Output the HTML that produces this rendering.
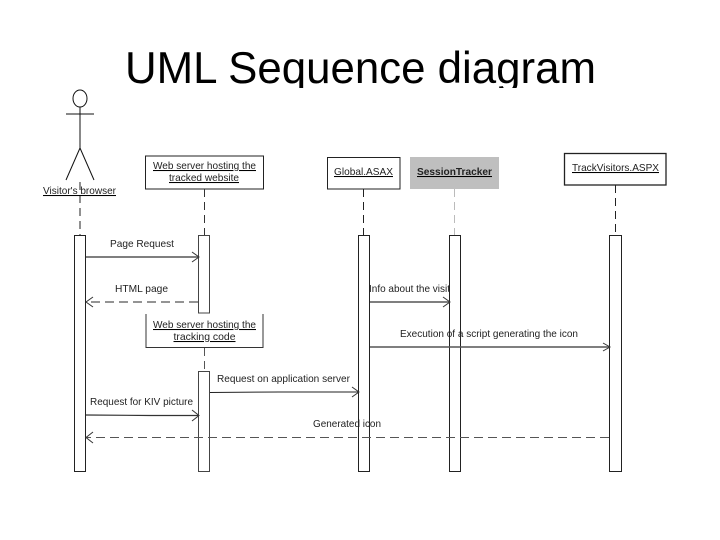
<!DOCTYPE html>
<html><head><meta charset="utf-8"><style>
html,body{margin:0;padding:0;background:#fff;width:720px;height:540px;overflow:hidden}
svg{display:block}
text{font-family:"Liberation Sans",sans-serif;font-size:10.5px;fill:#222}
.t{text-anchor:middle}
</style></head><body>
<svg width="720" height="540" viewBox="0 0 720 540" xmlns="http://www.w3.org/2000/svg">
<defs><clipPath id="c"><rect x="0" y="0" width="720" height="88"/></clipPath></defs>
<g clip-path="url(#c)"><text x="125" y="83" style="font-size:44.5px;fill:#000" textLength="471" lengthAdjust="spacingAndGlyphs">UML Sequence diagram</text></g>

<g fill="none" stroke="#111" stroke-width="1">
<ellipse cx="80" cy="98.5" rx="7" ry="8.5"/>
<path d="M66 114H94M80 107V148M80 148L66 180M80 148L94 180"/>
</g>

<rect x="410" y="157" width="89" height="32" fill="#bfbfbf"/>
<g fill="#fff" stroke="#222" stroke-width="1">
<rect x="145.500" y="156" width="118" height="33"/>
<rect x="327.500" y="157.500" width="72.500" height="31.500"/>
<rect x="564.500" y="153.500" width="101.500" height="31.500" stroke-width="1.300"/>
</g>
<path d="M146 314V347.500H263V314" fill="none" stroke="#333"/>

<g fill="none" stroke-width="1" stroke-dasharray="8 5">
<path d="M80 182V235" stroke="#222"/>
<path d="M204.500 189V235" stroke="#333"/>
<path d="M204.500 348V371" stroke="#555"/>
<path d="M363.500 189V235" stroke="#222"/>
<path d="M454.500 189V235" stroke="#bbb"/>
<path d="M615.500 185V235" stroke="#222"/>
</g>

<g fill="#fff" stroke="#222" stroke-width="1">
<rect x="74.500" y="235.500" width="11" height="236"/>
<rect x="198.500" y="235.500" width="11" height="77.500" stroke="#444"/>
<rect x="198.500" y="371.500" width="11" height="100" stroke="#444"/>
<rect x="358.500" y="235.500" width="11" height="236"/>
<rect x="449.500" y="235.500" width="11" height="236"/>
<rect x="609.500" y="235.500" width="12" height="236"/>
</g>

<g fill="none">
<path d="M86 257H198" stroke="#555" stroke-width="1.500"/>
<path d="M192 252L199 257L192 262" stroke="#333"/>
<path d="M198 302H87" stroke="#555" stroke-width="1.200" stroke-dasharray="9 5"/>
<path d="M93 297L86 302L93 307" stroke="#333"/>
<path d="M370 302H449" stroke="#555" stroke-width="1.500"/>
<path d="M443 297L450 302L443 307" stroke="#333"/>
<path d="M370 347H609" stroke="#555" stroke-width="1.500"/>
<path d="M603 343L610 347L603 351" stroke="#333"/>
<path d="M210 392.500L280 392H358" stroke="#222"/>
<path d="M352 387L359 392L352 397" stroke="#333"/>
<path d="M86 415L150 415.500H198" stroke="#333" stroke-width="1.200"/>
<path d="M192 410L199 415.500L192 421" stroke="#333"/>
<path d="M609 437.500H87" stroke="#555" stroke-dasharray="9 5"/>
<path d="M93 432L86 437.500L93 443" stroke="#333"/>
</g>

<g text-decoration="underline">
<text x="43" y="194" textLength="73" lengthAdjust="spacingAndGlyphs">Visitor's browser</text>
<text x="153" y="169" textLength="103" lengthAdjust="spacingAndGlyphs">Web server hosting the</text>
<text x="169" y="181" textLength="70" lengthAdjust="spacingAndGlyphs">tracked website</text>
<text x="153" y="328" textLength="103" lengthAdjust="spacingAndGlyphs">Web server hosting the</text>
<text x="173.500" y="340" textLength="62" lengthAdjust="spacingAndGlyphs">tracking code</text>
<text x="334" y="175" textLength="59" lengthAdjust="spacingAndGlyphs">Global.ASAX</text>
<text x="417" y="175" textLength="75" lengthAdjust="spacingAndGlyphs" style="font-weight:bold">SessionTracker</text>
<text x="572" y="171" textLength="87" lengthAdjust="spacingAndGlyphs">TrackVisitors.ASPX</text>
</g>

<text x="110" y="247" textLength="64" lengthAdjust="spacingAndGlyphs">Page Request</text>
<text x="115" y="292" textLength="53" lengthAdjust="spacingAndGlyphs">HTML page</text>
<text x="369" y="292" textLength="81" lengthAdjust="spacingAndGlyphs">Info about the visit</text>
<text x="400" y="337" textLength="178" lengthAdjust="spacingAndGlyphs">Execution of a script generating the icon</text>
<text x="217" y="382" textLength="133" lengthAdjust="spacingAndGlyphs">Request on application server</text>
<text x="90" y="405" textLength="103" lengthAdjust="spacingAndGlyphs">Request for KIV picture</text>
<text x="313" y="427" textLength="68" lengthAdjust="spacingAndGlyphs">Generated icon</text>
</svg>
</body></html>
